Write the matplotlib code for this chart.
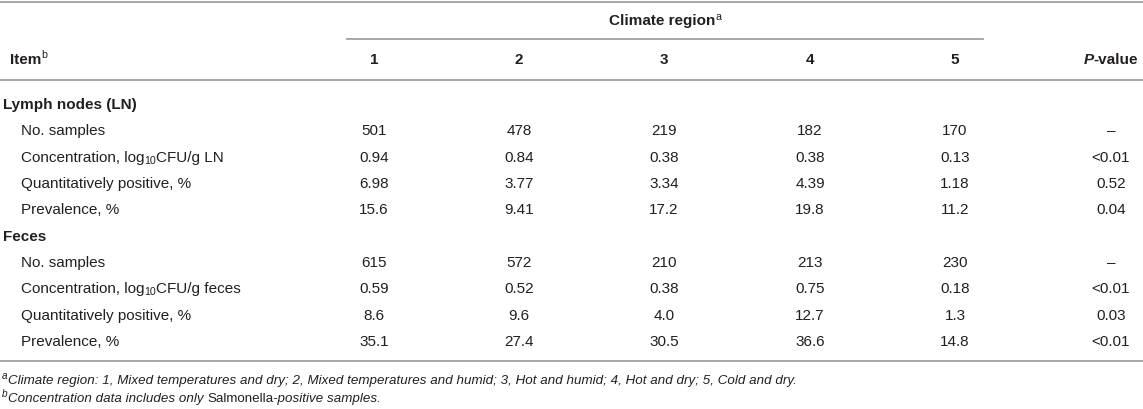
import matplotlib
matplotlib.use("Agg")
import matplotlib.pyplot as plt

plt.rcParams['font.family'] = ['Liberation Sans', 'DejaVu Sans']

# table content
regions = ['1', '2', '3', '4', '5']
item_names = ['No. samples', 'Concentration', 'Quantitatively positive, %', 'Prevalence, %']

ln_samples = ['501', '478', '219', '182', '170', '–']
ln_conc = ['0.94', '0.84', '0.38', '0.38', '0.13', '<0.01']
ln_quant = ['6.98', '3.77', '3.34', '4.39', '1.18', '0.52']
ln_prev = ['15.6', '9.41', '17.2', '19.8', '11.2', '0.04']

fe_samples = ['615', '572', '210', '213', '230', '–']
fe_conc = ['0.59', '0.52', '0.38', '0.75', '0.18', '<0.01']
fe_quant = ['8.6', '9.6', '4.0', '12.7', '1.3', '0.03']
fe_prev = ['35.1', '27.4', '30.5', '36.6', '14.8', '<0.01']

W, H = 1143, 410
TXT = '#231f20'
RULE = '#a0a0a0'
FS = 11

fig = plt.figure(figsize=(W / 100, H / 100), dpi=100)
ax = fig.add_axes([0, 0, 1, 1])
ax.set_xlim(0, W)
ax.set_ylim(H, 0)
ax.axis('off')
renderer = fig.canvas.get_renderer()


def runs(x, y, parts, ha='left', size=FS):
    """draw a list of (text, opts) pieces one after another on a line"""
    made = []
    for s, o in parts:
        sz = size * o.get('scale', 1.0)
        t = ax.text(0, y + o.get('dy', 0), s, fontsize=sz, color=TXT,
                    fontweight=o.get('weight', 'normal'),
                    fontstyle=o.get('style', 'normal'),
                    va='center', ha='left')
        made.append(t)
    widths = [t.get_window_extent(renderer).width for t in made]
    total = sum(widths)
    if ha == 'center':
        x0 = x - total / 2
    elif ha == 'right':
        x0 = x - total
    else:
        x0 = x
    for t, w in zip(made, widths):
        t.set_x(x0)
        x0 += w
    return made


SUP = {'scale': 0.7, 'dy': -4.5}
SUB = {'scale': 0.7, 'dy': 3}
B = {'weight': 'bold'}

col_x = [374, 519, 664, 810, 955]
p_x = 1111

# rules
ax.plot([0, W], [3, 3], color=RULE, lw=1.3)
ax.plot([347, 983], [40, 40], color=RULE, lw=1.3)
ax.plot([0, W], [81, 81], color=RULE, lw=1.3)
ax.plot([0, W], [362, 362], color=RULE, lw=1.3)

# header
runs(665, 21, [('Climate region', B), ('a', dict(SUP, weight='normal'))], ha='center')
runs(10, 60, [('Item', B), ('b', dict(SUP, weight='normal'))])
for cx, r in zip(col_x, regions):
    runs(cx, 60, [(r, B)], ha='center')
runs(p_x, 60, [('P', {'weight': 'bold', 'style': 'italic'}), ('-value', B)], ha='center')

row_y = [105, 131, 158, 184, 210, 237, 263, 289, 316, 342]

groups = [
    ('Lymph nodes (LN)', 'LN', [ln_samples, ln_conc, ln_quant, ln_prev]),
    ('Feces', 'feces', [fe_samples, fe_conc, fe_quant, fe_prev]),
]

k = 0
for title, unit, rows in groups:
    runs(3, row_y[k], [(title, B)])
    k += 1
    for name, vals in zip(item_names, rows):
        y = row_y[k]
        if name == 'Concentration':
            runs(21, y, [('Concentration, log', {}), ('10', SUB), ('CFU/g ' + unit, {})])
        else:
            runs(21, y, [(name, {})])
        for cx, v in zip(col_x, vals[:5]):
            runs(cx, y, [(v, {})], ha='center')
        runs(p_x, y, [(vals[5], {})], ha='center')
        k += 1

# footnotes
IT = {'style': 'italic'}
FN = 9.6
runs(2, 381, [('a', dict(SUP, style='italic', scale=0.75)),
              ('Climate region: 1, Mixed temperatures and dry; 2, Mixed temperatures and humid; '
               '3, Hot and humid; 4, Hot and dry; 5, Cold and dry.', IT)], size=FN)
runs(2, 399, [('b', dict(SUP, style='italic', scale=0.75)),
              ('Concentration data includes only ', IT), ('Salmonella', {}),
              ('-positive samples.', IT)], size=FN)

fig.savefig('out.png', dpi=100)
